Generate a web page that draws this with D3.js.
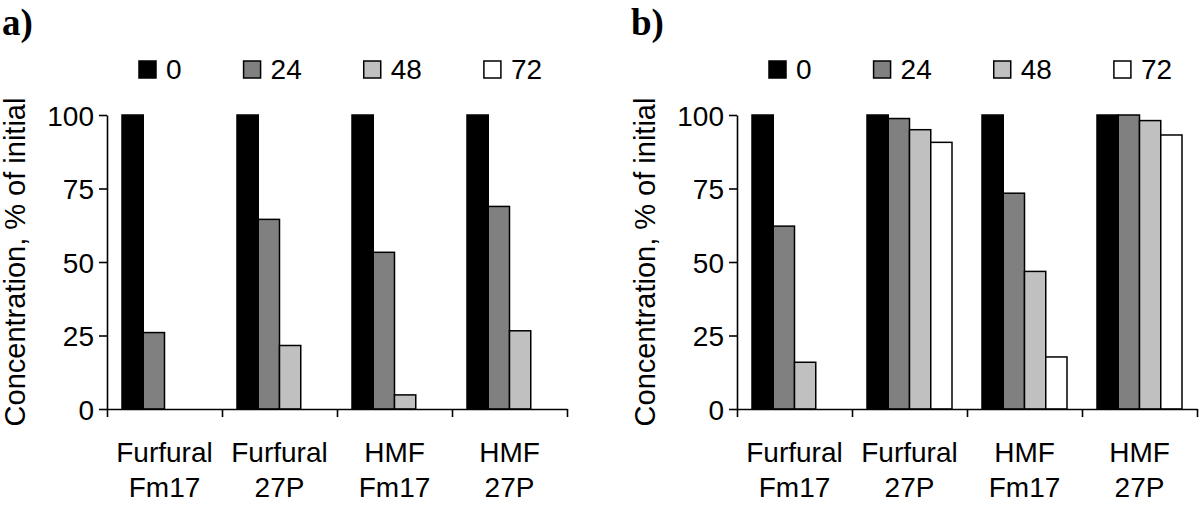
<!DOCTYPE html>
<html>
<head>
<meta charset="utf-8">
<script src="https://cdn.jsdelivr.net/npm/d3@7"></script>
<style>
  html, body { margin: 0; padding: 0; background: #fff; }
  svg { display: block; }
  text { font-family: "Liberation Sans", Arial, Helvetica, sans-serif; fill: #000; }
</style>
</head>
<body>
<svg id="chart" width="1200" height="505"></svg>
<script>
// ---- data ----
const categories = ["Furfural\nFm17", "Furfural\n27P", "HMF\nFm17", "HMF\n27P"];
const series = ["0", "24", "48", "72"];
const seriesColors = ["#000000", "#808080", "#c0c0c0", "#ffffff"];
const yTicks = [0, 25, 50, 75, 100];
const panelLabels = ["a)", "b)"];
// values per category, in series order (0, 24, 48, 72 h)
const panelA = [
  [100, 26.0, 0, 0],
  [100, 64.5, 21.6, 0],
  [100, 53.3, 4.8, 0],
  [100, 68.9, 26.6, 0]
];
const panelB = [
  [100, 62.2, 15.9, 0],
  [100, 98.8, 95.0, 90.7],
  [100, 73.4, 46.8, 17.7],
  [100, 100, 98.1, 93.2]
];
const yTitle = "Concentration, % of initial";

// ---- layout ----
const svg = d3.select("#chart");
const panels = [
  { data: panelA, label: panelLabels[0], axisX: 107, labelX: 2 },
  { data: panelB, label: panelLabels[1], axisX: 737, labelX: 631 }
];
const plotW = 460;
const y = d3.scaleLinear().domain([0, 100]).range([409, 115]);
const x0 = d3.scaleBand().domain(categories).range([0, plotW]).padding(0);
const x1 = d3.scaleBand().domain(series).range([15, 100]).padding(0);
const xb = d3.scaleLinear().domain([0, categories.length]).range([0, plotW]);
const color = d3.scaleOrdinal().domain(series).range(seriesColors);

panels.forEach(p => {
  // panel label
  svg.append("text")
    .attr("x", p.labelX).attr("y", 35)
    .style("font-family", "'Liberation Serif', 'Times New Roman', serif")
    .style("font-weight", "bold")
    .style("font-size", "37px")
    .text(p.label);

  const g = svg.append("g").attr("transform", `translate(${p.axisX},0)`);

  // bars
  const groups = g.selectAll("g.cat").data(p.data).join("g")
    .attr("class", "cat")
    .attr("transform", (d, i) => `translate(${x0(categories[i])},0)`);
  groups.selectAll("rect").data(d => d.map((v, j) => ({ s: series[j], v })))
    .join("rect")
    .attr("x", d => x1(d.s))
    .attr("width", x1.bandwidth())
    .attr("y", d => y(d.v))
    .attr("height", d => y(0) - y(d.v))
    .attr("fill", d => color(d.s))
    .attr("stroke", "#000")
    .attr("stroke-width", 1.5);

  // y axis
  const ya = g.append("g").call(
    d3.axisLeft(y).tickValues(yTicks).tickSize(8).tickSizeOuter(0).tickPadding(5)
  );
  ya.select(".domain").attr("stroke-width", 1.6);
  ya.selectAll(".tick line").attr("stroke-width", 1.6);
  ya.selectAll(".tick text").style("font-size", "28px")
    .style("font-family", "'Liberation Sans', Arial, sans-serif").attr("dy", "0.36em");

  // x axis (boundary ticks)
  const xa = g.append("g").attr("transform", `translate(0,${y(0)})`).call(
    d3.axisBottom(xb).tickValues(d3.range(categories.length + 1)).tickSize(8).tickSizeOuter(0).tickFormat("")
  );
  xa.select(".domain").attr("stroke-width", 1.6);
  xa.selectAll(".tick line").attr("stroke-width", 1.6);

  // category labels
  categories.forEach(c => {
    const lines = c.split("\n");
    const t = g.append("text")
      .attr("text-anchor", "middle")
      .style("font-size", "28px");
    lines.forEach((ln, k) => {
      t.append("tspan")
        .attr("x", x0(c) + x0.bandwidth() / 2)
        .attr("y", 462 + k * 35)
        .text(ln);
    });
  });

  // y title
  svg.append("text")
    .attr("transform", `translate(${p.axisX - 82},${(y(0) + y(100)) / 2}) rotate(-90)`)
    .attr("text-anchor", "middle")
    .style("font-size", "29px")
    .text(yTitle);

  // legend (flow layout)
  const lg = g.append("g").attr("transform", "translate(32,0)");
  let lx = 0;
  series.forEach((s, j) => {
    lg.append("rect").attr("x", lx).attr("y", 61).attr("width", 17).attr("height", 17)
      .attr("fill", color(s)).attr("stroke", "#000").attr("stroke-width", 1.5);
    const t = lg.append("text").attr("x", lx + 27).attr("y", 79)
      .style("font-size", "28px").text(s);
    lx = lx + 27 + t.node().getComputedTextLength() + 62;
  });
});
</script>
</body>
</html>
